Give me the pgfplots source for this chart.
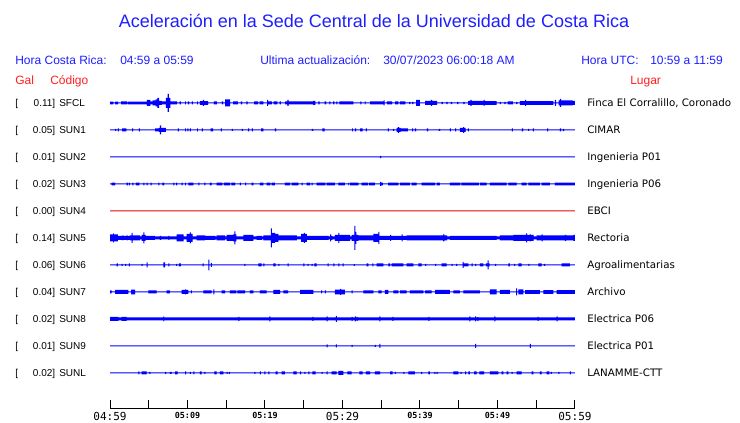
\documentclass[border=0pt]{standalone}
\usepackage{pgfplots}
\pgfplotsset{compat=1.18}
\usepackage{pgfplotstable}
\usepgfplotslibrary{fillbetween}
\usepackage{fontspec}
\setmainfont{Liberation Sans}
\newfontfamily\lug{DejaVu Sans}
\newfontfamily\mono{DejaVu Sans Mono}
\definecolor{tblue}{RGB}{30,30,255}
\definecolor{tred}{RGB}{255,30,30}
\definecolor{trc}{RGB}{0,0,255}
\definecolor{trr}{RGB}{220,10,10}

% t = minutes since 04:59, a = half height of the trace envelope (px)
\pgfplotstableread[row sep=\\]{t a\\
0 1.3\\ 0.45 0.5\\ 0.65 1.3\\ 1.05 0.5\\ 1.45 1.5\\ 2.2 0.6\\ 2.32 1.3\\ 4.77 3.0\\ 5.2 1.5\\ 5.5 2.5\\ 5.9 3.5\\ 6.1 5.0\\ 6.35 2.0\\
6.7 1.5\\ 7.2 5.0\\ 7.45 9.0\\ 7.6 5.0\\ 7.8 1.5\\ 8.65 0.5\\ 9.0 1.5\\ 9.15 0.5\\ 9.68 1.5\\ 9.8 0.5\\ 10.06 1.5\\ 10.2 0.5\\
10.58 1.5\\ 10.7 0.5\\ 11.23 1.5\\ 11.35 0.5\\ 11.61 1.8\\ 12.0 3.0\\ 12.15 1.8\\ 12.65 0.5\\ 13.4 1.5\\ 13.8 0.5\\ 14.45 1.5\\ 14.6 0.5\\
14.84 3.5\\ 15.5 0.5\\ 15.9 1.5\\ 16.5 0.5\\ 16.9 1.5\\ 17.05 0.5\\ 17.6 1.5\\ 17.75 0.5\\ 18.6 1.5\\ 19.1 0.5\\ 19.3 1.5\\ 19.8 0.5\\
20.26 3.0\\ 20.4 1.5\\ 20.9 0.5\\ 21.1 1.5\\ 21.6 0.5\\ 21.9 1.5\\ 22.05 0.5\\ 22.6 1.5\\ 22.9 3.0\\ 23.05 1.5\\ 26.2 2.0\\ 26.5 0.5\\
26.9 1.5\\ 27.05 0.5\\ 27.7 1.5\\ 27.9 0.5\\ 28.3 1.5\\ 28.45 0.5\\ 28.8 1.5\\ 28.95 0.5\\ 29.2 1.5\\ 29.35 0.5\\ 29.6 1.5\\ 31.4 0.5\\
32.3 1.5\\ 32.45 0.5\\ 32.9 1.5\\ 33.0 0.5\\ 33.55 1.5\\ 35.3 2.5\\ 35.45 0.5\\ 35.74 1.5\\ 36.4 0.5\\ 36.8 1.5\\ 37.2 0.5\\ 37.4 1.5\\
38.1 0.5\\ 38.6 1.2\\ 38.75 0.5\\ 39.0 1.2\\ 39.15 0.5\\ 39.5 3.0\\ 40.0 0.5\\ 40.65 2.0\\ 41.4 3.0\\ 41.55 2.0\\ 42.2 0.5\\ 42.8 1.2\\
42.95 0.5\\ 43.4 1.2\\ 43.55 0.5\\ 44.0 1.2\\ 44.15 0.5\\ 44.8 1.2\\ 44.95 0.5\\ 45.6 1.2\\ 45.75 0.5\\ 46.2 2.0\\ 46.5 3.0\\ 46.65 2.0\\
48.2 3.0\\ 48.35 2.0\\ 48.5 1.8\\ 49.9 0.5\\ 50.3 1.2\\ 50.45 0.5\\ 50.9 1.2\\ 51.05 0.5\\ 51.3 1.5\\ 52.0 0.5\\ 52.4 1.2\\ 52.55 0.5\\
52.9 1.8\\ 53.55 3.0\\ 53.7 1.8\\ 57.2 0.5\\ 57.4 3.0\\ 57.55 0.5\\ 57.9 2.5\\ 58.06 4.0\\ 58.2 2.5\\ 59.7 2.0\\ 60 2.0\\
}\tA
\pgfplotstableread[row sep=\\]{t a\\
0 0.5\\ 0.65 1.0\\ 0.8 0.5\\ 1.03 1.5\\ 1.15 0.5\\ 1.55 1.5\\ 2.1 0.5\\ 2.84 1.5\\ 2.97 0.5\\ 3.74 1.5\\ 3.87 0.5\\ 5.81 1.5\\ 6.3 2.0\\
6.45 4.5\\ 6.6 2.0\\ 7.2 0.5\\ 8.77 1.5\\ 8.9 0.5\\ 9.68 1.5\\ 9.8 0.5\\ 10.0 1.5\\ 10.12 0.5\\ 10.3 1.5\\ 10.42 0.5\\ 11.23 1.5\\ 11.35 0.5\\
11.87 1.5\\ 12.0 0.5\\ 13.0 1.5\\ 13.3 0.5\\ 14.32 1.5\\ 14.45 0.5\\ 15.74 1.0\\ 15.87 0.5\\ 17.03 1.0\\ 17.15 0.5\\ 17.81 1.5\\ 17.95 0.5\\
18.32 1.5\\ 18.45 0.5\\ 19.5 1.5\\ 19.8 0.5\\ 21.29 1.5\\ 21.42 0.5\\ 26.06 1.0\\ 26.2 0.5\\ 27.4 1.5\\ 27.7 0.5\\ 31.23 1.5\\ 31.35 0.5\\
31.6 1.5\\ 31.75 0.5\\ 32.26 1.5\\ 32.6 0.5\\ 33.03 1.5\\ 33.15 0.5\\ 35.87 1.5\\ 36.0 0.5\\ 36.52 1.0\\ 36.65 0.5\\ 37.0 2.0\\ 37.16 2.8\\
37.3 2.0\\ 37.5 1.5\\ 38.45 0.5\\ 38.97 1.5\\ 39.1 0.5\\ 39.35 1.5\\ 39.5 0.5\\ 40.9 1.5\\ 41.05 0.5\\ 42.45 1.0\\ 42.6 0.5\\ 43.87 1.5\\
44.0 0.5\\ 44.52 1.5\\ 44.65 0.5\\ 45.16 2.0\\ 45.55 2.8\\ 45.7 2.0\\ 45.9 0.5\\ 46.19 1.5\\ 46.32 0.5\\ 51.87 1.5\\ 52.0 0.5\\ 53.16 1.5\\
53.3 0.5\\ 53.94 1.0\\ 54.07 0.5\\ 54.58 1.5\\ 54.7 0.5\\ 56.39 1.5\\ 56.52 0.5\\ 58.06 1.5\\ 58.2 0.5\\ 58.45 1.2\\ 58.6 0.5\\ 60 0.5\\
}\tB
\pgfplotstableread[row sep=\\]{t a\\
0 0.5\\ 34.84 1.2\\ 34.97 0.5\\ 60 0.5\\
}\tC
\pgfplotstableread[row sep=\\]{t a\\
0 0.5\\ 0.2 1.3\\ 0.65 0.5\\ 2.15 1.3\\ 2.3 0.5\\ 2.45 1.3\\ 2.58 0.5\\ 2.88 1.3\\ 3.0 0.5\\ 3.35 1.3\\ 3.8 0.5\\ 4.3 1.3\\ 4.42 0.5\\
4.73 1.3\\ 4.85 0.5\\ 5.25 1.3\\ 5.37 0.5\\ 6.24 1.3\\ 6.36 0.5\\ 6.75 1.3\\ 7.0 0.5\\ 8.17 1.3\\ 8.3 0.5\\ 8.52 1.3\\ 8.65 0.5\\
9.25 1.3\\ 9.38 0.5\\ 9.68 1.3\\ 9.8 0.5\\ 10.1 1.3\\ 10.75 0.5\\ 11.4 1.3\\ 11.52 0.5\\ 12.17 1.3\\ 12.3 0.5\\ 12.9 1.3\\ 13.1 0.5\\
13.77 1.3\\ 14.5 0.5\\ 14.7 1.3\\ 15.5 0.5\\ 15.65 1.3\\ 16.13 0.5\\ 16.77 1.3\\ 16.9 0.5\\ 17.42 1.3\\ 17.55 0.5\\ 18.28 1.3\\ 18.5 0.5\\
19.35 1.3\\ 19.78 0.5\\ 20.22 1.3\\ 20.7 0.5\\ 20.85 1.3\\ 21.29 0.5\\ 22.58 1.3\\ 23.23 0.5\\ 23.44 1.3\\ 24.3 0.5\\ 24.73 1.3\\ 24.85 0.5\\
25.38 1.3\\ 25.81 0.5\\ 26.02 1.3\\ 26.15 0.5\\ 26.67 1.3\\ 27.8 0.5\\ 27.95 1.3\\ 29.03 0.5\\ 29.46 1.3\\ 30.32 0.5\\ 30.75 1.3\\ 30.87 0.5\\
30.97 1.3\\ 32.04 0.5\\ 32.47 1.3\\ 33.3 0.5\\ 33.45 1.3\\ 34.19 0.5\\ 34.84 2.0\\ 34.97 1.3\\ 35.2 0.5\\ 35.9 1.3\\ 37.2 0.5\\ 37.42 1.3\\
38.71 0.5\\ 38.93 1.3\\ 39.57 0.5\\ 40.22 1.3\\ 41.94 0.5\\ 42.15 1.3\\ 42.58 0.5\\ 43.87 1.3\\ 45.2 0.5\\ 45.35 1.3\\ 47.6 0.5\\ 47.75 1.3\\
48.6 0.5\\ 49.03 1.3\\ 51.18 0.5\\ 51.4 1.3\\ 52.47 0.5\\ 53.12 1.3\\ 53.76 0.5\\ 53.98 1.3\\ 55.48 0.5\\ 55.7 1.3\\ 56.77 0.5\\ 57.42 1.3\\
60 1.3\\
}\tD
\pgfplotstableread[row sep=\\]{t a\\
0 0.5\\ 60 0.5\\
}\tE
\pgfplotstableread[row sep=\\]{t a\\
0 3.5\\ 0.4 4.5\\ 0.5 3.5\\ 1.0 2.0\\ 1.59 2.5\\ 1.72 2.0\\ 2.15 2.5\\ 2.28 2.0\\ 2.58 2.5\\ 2.8 5.0\\ 2.93 2.5\\ 3.9 1.5\\ 4.09 3.0\\
4.3 5.5\\ 4.43 3.0\\ 4.6 2.0\\ 5.8 1.5\\ 6.45 2.0\\ 6.6 1.5\\ 7.53 2.0\\ 7.66 1.5\\ 8.6 3.5\\ 9.5 1.5\\ 9.89 4.0\\ 10.3 5.5\\ 10.43 4.0\\
10.65 1.5\\ 11.18 2.5\\ 12.26 2.0\\ 13.6 1.5\\ 13.77 2.5\\ 14.85 1.5\\ 15.05 3.0\\ 15.9 3.5\\ 16.04 6.5\\ 16.17 3.5\\ 16.3 1.5\\ 17.2 3.0\\
18.5 1.5\\ 18.92 2.0\\ 19.6 1.5\\ 19.78 2.5\\ 20.77 9.5\\ 20.9 5.0\\ 21.3 4.0\\ 21.72 2.5\\ 24.1 1.5\\ 24.65 4.0\\ 25.03 5.0\\ 25.16 4.0\\
25.4 2.0\\ 28.2 1.5\\ 28.39 3.5\\ 28.52 2.0\\ 28.7 1.5\\ 29.03 3.0\\ 29.46 5.0\\ 29.59 3.0\\ 31.0 1.5\\ 31.18 3.0\\ 31.53 12.0\\ 31.66 6.0\\
31.8 3.0\\ 32.04 2.5\\ 33.98 4.0\\ 34.62 6.0\\ 34.75 2.0\\ 36.13 3.0\\ 36.26 2.0\\ 37.63 3.5\\ 37.76 2.0\\ 38.28 2.5\\ 43.0 3.5\\ 43.13 2.5\\
43.5 1.5\\ 43.87 2.0\\ 49.9 1.5\\ 50.32 2.5\\ 52.04 3.0\\ 53.68 4.5\\ 53.81 3.0\\ 54.19 3.5\\ 54.32 3.0\\ 54.65 1.5\\ 55.05 2.5\\ 55.7 3.5\\
55.83 2.5\\ 58.71 3.0\\ 58.84 2.5\\ 59.78 3.0\\ 60 3.0\\
}\tF
\pgfplotstableread[row sep=\\]{t a\\
0 0.5\\ 0.86 1.5\\ 1.0 0.5\\ 1.5 1.0\\ 1.63 0.5\\ 1.94 1.0\\ 2.07 0.5\\ 2.45 1.5\\ 2.58 0.5\\ 4.09 1.0\\ 4.22 0.5\\ 4.73 2.5\\ 4.86 0.5\\
6.88 2.5\\ 7.1 0.5\\ 7.53 1.5\\ 7.66 0.5\\ 8.52 1.0\\ 8.65 0.5\\ 8.9 1.5\\ 9.16 0.5\\ 11.96 1.5\\ 12.09 0.5\\ 12.69 5.3\\ 12.82 0.5\\
13.03 2.0\\ 13.16 0.5\\ 17.33 1.0\\ 17.46 0.5\\ 19.14 1.5\\ 19.57 0.5\\ 19.78 1.5\\ 19.91 0.5\\ 21.08 1.5\\ 21.38 0.5\\ 21.72 1.0\\ 21.85 0.5\\
22.93 1.5\\ 23.06 0.5\\ 24.95 1.5\\ 25.08 0.5\\ 25.5 1.0\\ 25.63 0.5\\ 26.02 1.0\\ 26.15 0.5\\ 26.37 1.5\\ 26.67 0.5\\ 28.09 1.5\\ 28.22 0.5\\
28.82 1.5\\ 28.95 0.5\\ 29.46 1.5\\ 29.59 0.5\\ 30.02 1.5\\ 30.15 0.5\\ 31.48 0.8\\ 31.6 0.5\\ 33.12 1.5\\ 33.33 0.5\\ 33.85 1.5\\ 33.98 0.5\\
34.41 1.5\\ 35.27 0.5\\ 35.91 1.5\\ 36.13 0.5\\ 36.34 1.5\\ 37.85 0.5\\ 38.28 1.5\\ 39.14 0.5\\ 39.79 1.5\\ 40.22 0.5\\ 40.65 1.0\\ 40.78 0.5\\
41.94 1.0\\ 42.07 0.5\\ 42.8 1.5\\ 43.44 0.5\\ 44.09 1.0\\ 44.22 0.5\\ 44.65 1.0\\ 44.78 0.5\\ 45.5 3.0\\ 45.63 1.5\\ 46.24 0.5\\ 46.67 1.5\\
46.8 0.5\\ 47.1 1.0\\ 47.23 0.5\\ 47.74 1.5\\ 48.17 0.5\\ 48.5 1.5\\ 48.73 4.5\\ 48.86 1.5\\ 49.0 0.5\\ 49.68 1.0\\ 49.81 0.5\\ 51.4 1.5\\
51.61 0.5\\ 52.13 1.0\\ 52.26 0.5\\ 52.69 1.5\\ 53.12 0.5\\ 53.98 1.0\\ 54.11 0.5\\ 55.27 1.5\\ 55.7 0.5\\ 56.0 1.0\\ 56.13 0.5\\ 58.28 1.5\\
59.35 0.5\\ 60 0.5\\
}\tG
\pgfplotstableread[row sep=\\]{t a\\
0 1.5\\ 0.22 0.5\\ 0.65 2.0\\ 2.37 0.5\\ 2.71 2.3\\ 3.23 0.5\\ 4.95 1.5\\ 6.02 0.5\\ 7.31 1.5\\ 7.74 0.5\\ 9.25 2.0\\ 9.68 2.5\\ 9.81 2.0\\
10.11 0.5\\ 10.45 1.5\\ 10.58 0.5\\ 12.04 1.5\\ 13.12 0.5\\ 13.33 2.5\\ 13.46 0.5\\ 14.41 1.5\\ 14.84 0.5\\ 15.48 1.5\\ 16.3 0.5\\ 16.45 1.5\\
17.42 0.5\\ 18.06 1.5\\ 18.49 0.5\\ 19.35 1.5\\ 20.22 0.5\\ 21.08 2.0\\ 21.94 0.5\\ 22.37 1.5\\ 23.0 0.5\\ 24.52 2.0\\ 26.23 0.5\\ 27.23 1.5\\
27.36 0.5\\ 27.74 1.5\\ 27.87 0.5\\ 29.03 2.3\\ 29.68 3.0\\ 29.81 2.3\\ 30.32 0.5\\ 31.18 1.5\\ 31.31 0.5\\ 32.69 1.5\\ 33.98 0.5\\ 34.62 1.5\\
35.05 0.5\\ 35.48 2.0\\ 35.91 0.5\\ 36.56 1.5\\ 37.2 0.5\\ 37.42 1.5\\ 38.28 0.5\\ 38.71 1.5\\ 40.43 0.5\\ 40.65 1.5\\ 41.5 0.5\\ 41.94 2.0\\
43.87 0.5\\ 44.3 1.5\\ 45.16 0.5\\ 45.59 1.5\\ 47.74 0.5\\ 49.03 2.5\\ 49.9 0.5\\ 50.32 2.0\\ 51.61 0.5\\ 52.39 3.5\\ 52.52 0.5\\ 52.69 2.5\\
53.33 0.5\\ 53.55 1.8\\ 55.48 0.5\\ 55.91 1.8\\ 57.2 0.5\\ 57.63 1.8\\ 60 1.8\\
}\tH
\pgfplotstableread[row sep=\\]{t a\\
0 2.0\\ 1.08 1.5\\ 1.5 2.0\\ 2.15 1.5\\ 6.88 2.5\\ 7.0 1.5\\ 16.56 2.0\\ 16.69 1.5\\ 20.56 2.5\\ 20.69 1.5\\ 26.11 2.0\\ 26.24 1.5\\
27.96 2.5\\ 28.09 1.5\\ 29.16 3.0\\ 29.29 1.5\\ 31.18 2.0\\ 31.31 1.5\\ 31.61 2.5\\ 31.74 1.5\\ 31.83 2.0\\ 31.96 1.5\\ 34.75 2.5\\ 34.88 1.5\\
36.43 2.0\\ 36.56 1.5\\ 41.08 2.0\\ 41.21 1.5\\ 46.37 2.5\\ 46.5 1.5\\ 47.1 2.5\\ 47.23 1.5\\ 47.4 1.8\\ 47.53 1.5\\ 49.59 2.5\\ 49.72 1.5\\
55.18 2.0\\ 55.31 1.5\\ 57.63 2.5\\ 57.76 1.5\\ 60 1.5\\
}\tI
\pgfplotstableread[row sep=\\]{t a\\
0 0.5\\ 27.96 1.5\\ 28.09 0.5\\ 29.16 1.5\\ 29.29 0.5\\ 31.18 1.0\\ 31.31 0.5\\ 34.19 1.0\\ 34.32 0.5\\ 34.75 2.0\\ 34.88 0.5\\
47.1 2.0\\ 47.23 0.5\\ 54.19 2.0\\ 54.32 0.5\\ 60 0.5\\
}\tJ
\pgfplotstableread[row sep=\\]{t a\\
0 0.5\\ 3.66 1.5\\ 3.79 0.5\\ 4.09 1.5\\ 4.73 0.5\\ 5.08 1.0\\ 5.21 0.5\\ 7.1 1.0\\ 7.23 0.5\\ 7.74 1.0\\ 7.96 0.5\\ 8.39 1.5\\ 8.73 0.5\\
9.68 1.5\\ 9.81 0.5\\ 10.32 1.0\\ 10.45 0.5\\ 10.75 1.5\\ 10.88 0.5\\ 11.61 1.5\\ 11.83 0.5\\ 12.17 1.0\\ 12.3 0.5\\ 13.46 1.5\\ 13.77 0.5\\
14.19 1.5\\ 14.62 0.5\\ 15.05 1.0\\ 15.18 0.5\\ 15.35 1.0\\ 15.48 0.5\\ 18.62 1.0\\ 18.75 0.5\\ 19.35 1.5\\ 19.48 0.5\\ 19.91 1.5\\ 20.04 0.5\\
20.43 1.5\\ 20.56 0.5\\ 21.38 1.5\\ 21.63 0.5\\ 22.15 1.5\\ 22.58 0.5\\ 23.66 1.5\\ 24.09 0.5\\ 24.52 1.5\\ 24.65 0.5\\ 25.08 1.0\\ 25.21 0.5\\
25.59 1.5\\ 25.72 0.5\\ 26.11 1.5\\ 26.54 0.5\\ 27.31 1.0\\ 27.44 0.5\\ 27.96 1.5\\ 28.09 0.5\\ 28.6 1.5\\ 29.25 0.5\\ 29.46 2.0\\ 30.1 0.5\\
30.62 1.5\\ 31.18 0.5\\ 32.17 1.5\\ 32.6 0.5\\ 33.03 1.5\\ 33.55 0.5\\ 34.19 1.5\\ 34.84 0.5\\ 36.13 1.5\\ 36.47 0.5\\ 36.77 1.0\\ 36.9 0.5\\
37.85 1.0\\ 37.98 0.5\\ 38.49 1.5\\ 39.35 0.5\\ 40.13 1.0\\ 40.26 0.5\\ 41.08 1.5\\ 41.29 0.5\\ 41.85 1.0\\ 41.98 0.5\\ 42.15 1.0\\ 42.28 0.5\\
44.3 1.5\\ 44.95 0.5\\ 45.25 1.0\\ 45.38 0.5\\ 45.81 1.5\\ 45.94 0.5\\ 46.24 1.5\\ 46.45 0.5\\ 47.0 1.5\\ 47.31 0.5\\ 47.66 1.5\\ 48.26 0.5\\
49.03 1.5\\ 50.11 0.5\\ 50.54 1.5\\ 50.75 0.5\\ 51.18 1.5\\ 51.4 0.5\\ 51.83 1.0\\ 51.96 0.5\\ 52.47 1.5\\ 53.12 0.5\\ 54.41 1.5\\ 54.62 0.5\\
55.48 1.5\\ 55.7 0.5\\ 56.34 1.5\\ 56.69 0.5\\ 56.9 1.0\\ 57.03 0.5\\ 57.85 1.0\\ 57.98 0.5\\ 59.35 1.5\\ 59.48 0.5\\ 60 0.5\\
}\tK

% one seismic trace: table, centre row (px from top), colour, name
\newcommand{\trace}[4]{%
  \addplot[draw=none, const plot, name path=U#4] table[x=t, y expr={\thisrow{a}-#2}] {#1};
  \addplot[draw=none, const plot, name path=L#4] table[x=t, y expr={0-\thisrow{a}-#2}] {#1};
  \addplot[fill=#3, draw=none] fill between[of=U#4 and L#4];
}
\newcommand{\bigtick}{\mono\mdseries\fontsize{8.3pt}{9pt}\selectfont}

\begin{document}
\begin{tikzpicture}
\begin{scope}[x=0.75pt, y=-0.75pt]
\useasboundingbox (0,0) rectangle (740,423);
\end{scope}
\begin{axis}[
  at={(82.5pt,-306.75pt)}, anchor=south west,
  scale only axis, width=348.75pt, height=239.25pt,
  xmin=0, xmax=60, ymin=-409, ymax=-90,
  axis x line=bottom, axis y line=none,
  axis line style={-, black, line width=0.75pt},
  xtick={0,10,...,60}, minor xtick={5,15,...,55},
  xticklabels={{\bigtick 04:59},05:09,05:19,{\bigtick 05:29},05:39,05:49,{\bigtick 05:59}},
  xticklabel style={inner sep=0pt, anchor=north, yshift=-2.3pt, font=\mono\bfseries\fontsize{6.3pt}{7pt}\selectfont},
  tick align=inside, major tick length=6.75pt, minor tick length=6.75pt,
  every tick/.style={black, line width=0.75pt},
  ytick=\empty,
]
\trace{\tA}{103}{trc}{a}
\trace{\tB}{130}{trc}{b}
\trace{\tC}{157}{trc}{c}
\trace{\tD}{184}{trc}{d}
\trace{\tE}{211}{trr}{e}
\trace{\tF}{238}{trc}{f}
\trace{\tG}{265}{trc}{g}
\trace{\tH}{292}{trc}{h}
\trace{\tI}{319}{trc}{i}
\trace{\tJ}{346}{trc}{j}
\trace{\tK}{373}{trc}{k}
\end{axis}

\begin{scope}[x=0.75pt, y=-0.75pt]
\node[anchor=base, inner sep=0pt, text=tblue, font=\fontsize{13.5pt}{15pt}\selectfont] at (374,28) {Aceleración en la Sede Central de la Universidad de Costa Rica};
\begin{scope}[every node/.style={inner sep=0pt, anchor=base west, font=\fontsize{9pt}{10pt}\selectfont}]
\node[text=tblue] at (15,65) {Hora Costa Rica:};
\node[text=tblue] at (120,65) {04:59 a 05:59};
\node[text=tblue] at (260,65) {Ultima actualización:};
\node[text=tblue] at (383,65) {30/07/2023 06:00:18 AM};
\node[text=tblue] at (581,65) {Hora UTC:};
\node[text=tblue] at (650,65) {10:59 a 11:59};
\node[text=tred] at (15,85) {Gal};
\node[text=tred] at (50,85) {Código};
\node[text=tred] at (630,85) {Lugar};
\end{scope}
\foreach \r/\g/\c/\l in {103/0.11/SFCL/{Finca El Corralillo, Coronado}, 130/0.05/SUN1/CIMAR,
  157/0.01/SUN2/Ingenieria P01, 184/0.02/SUN3/Ingenieria P06, 211/0.00/SUN4/EBCI,
  238/0.14/SUN5/Rectoria, 265/0.06/SUN6/Agroalimentarias, 292/0.04/SUN7/Archivo,
  319/0.02/SUN8/Electrica P06, 346/0.01/SUN9/Electrica P01, 373/0.02/SUNL/LANAMME-CTT}{
  \node[inner sep=0pt, anchor=base west, font=\fontsize{7.5pt}{8pt}\selectfont] at (15,\r+3.7) {[};
  \node[inner sep=0pt, anchor=base east, font=\fontsize{7.5pt}{8pt}\selectfont] at (55.5,\r+3.7) {\g]};
  \node[inner sep=0pt, anchor=base west, font=\fontsize{7.5pt}{8pt}\selectfont] at (59,\r+3.7) {\c};
  \node[inner sep=0pt, anchor=base west, font=\lug\fontsize{7.7pt}{8pt}\selectfont] at (587,\r+3.7) {\l};
}
\end{scope}
\end{tikzpicture}
\end{document}
